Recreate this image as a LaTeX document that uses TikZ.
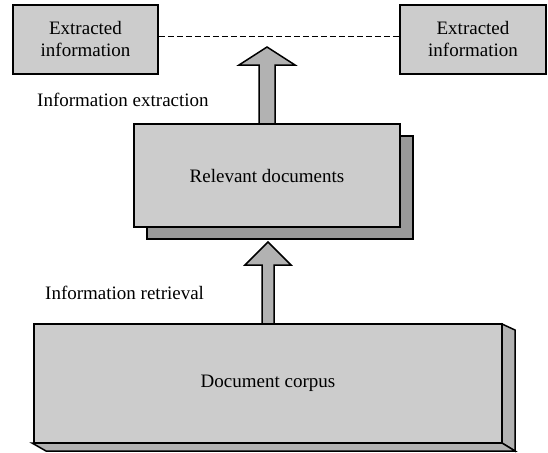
\documentclass[tikz,border=0pt]{standalone}
\usepackage{fontspec}
\setmainfont{Liberation Serif}
\usetikzlibrary{calc,positioning}
\definecolor{boxgray}{gray}{0.8}
\definecolor{sidegray}{gray}{0.7}
\definecolor{shadowgray}{gray}{0.6}

\begin{document}
\begin{tikzpicture}[x=1pt,y=-1pt,
    infobox/.style={draw,line width=1.5pt,fill=boxgray,align=center,inner sep=0pt,
      font=\fontsize{19}{22}\selectfont},
    caption/.style={anchor=west,inner sep=0pt,font=\fontsize{19}{22}\selectfont},
    blockarrow/.style={draw,line width=1.5pt,fill=sidegray,line join=miter}]
    \useasboundingbox (0,0) rectangle (548,452);

    % block arrows
    \draw[blockarrow] ($(267,124)+(-8,0)$) -- ++(0,-59) -- ++(-20,0) -- ($(267,124)+(0,-77)$)
      -- ($(267,124)+(28,-59)$) -- ++(-20,0) -- ($(267,124)+(8,0)$);
    \draw[blockarrow] ($(268,324)+(-6,0)$) -- ++(0,-59) -- ++(-17,0) -- ($(268,324)+(0,-82)$)
      -- ($(268,324)+(23,-59)$) -- ++(-17,0) -- ($(268,324)+(6,0)$);

    % extracted information
    \node[infobox,minimum width=145,minimum height=69] (exl) at (85.5,39.5) {Extracted\\information};
    \node[infobox,minimum width=146,minimum height=69] (exr) at (473,39.5) {Extracted\\information};
    \draw[line width=1.6pt,dash pattern=on 6pt off 3pt] ($(exl.east)+(0,-3)$) -- ($(exr.west)+(0,-3)$);
    \node[caption] (iex) at (37,100) {Information extraction};

    % relevant documents
    \node[infobox,fill=shadowgray,minimum width=266,minimum height=103] (relsh) at (280,187.5) {};
    \node[infobox,minimum width=266,minimum height=103] (rel) at (267,175.5) {Relevant documents};
    \node[caption] (iret) at (45,293) {Information retrieval};

    % document corpus
    \coordinate (cnw) at (34,324);
    \coordinate (cse) at (502,443);
    \draw[blockarrow] (cnw -| cse) -- ++(13,6) -- ($(cse)+(13,8)$) -- (cse) -- cycle;
    \draw[blockarrow] ($(cnw |- cse)+(-2,0)$) -- (cse) -- ++(13,8) -- ($(cnw |- cse)+(12,8)$) -- cycle;
    \node[infobox,minimum width=468,minimum height=119] (corpus) at ($(cnw)!.5!(cse)$) {Document corpus};
  \end{tikzpicture}
\end{document}
